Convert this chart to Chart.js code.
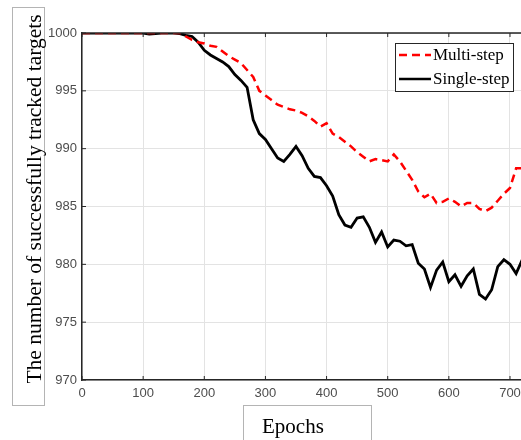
<!DOCTYPE html>
<html>
<head>
<meta charset="utf-8">
<script src="https://cdn.jsdelivr.net/npm/chart.js@4.4.0/dist/chart.umd.min.js"></script>
<style>
  html, body { margin: 0; padding: 0; background: #fff; }
  #wrap { width: 521px; height: 440px; }
</style>
</head>
<body>
<div id="wrap"><canvas id="myChart" width="521" height="440"></canvas></div>
<script>
// epochs sampled every 10
const epochs = [
    0, 10, 20, 30, 40, 50, 60, 70, 80, 90,
    100, 110, 120, 130, 140, 150, 160, 170, 180, 190,
    200, 210, 220, 230, 240, 250, 260, 270, 280, 290,
    300, 310, 320, 330, 340, 350, 360, 370, 380, 390,
    400, 410, 420, 430, 440, 450, 460, 470, 480, 490,
    500, 510, 520, 530, 540, 550, 560, 570, 580, 590,
    600, 610, 620, 630, 640, 650, 660, 670, 680, 690,
    700, 710, 720
];

const multiStep = [
    1000, 1000, 1000, 1000, 1000, 1000, 1000, 1000, 1000, 1000,
    1000, 1000, 1000, 1000, 1000, 1000, 1000, 999.7, 999.4, 999.2,
    999.1, 998.9, 998.8, 998.4, 998.0, 997.7, 997.4, 996.8, 996.2, 995.0,
    994.6, 994.2, 993.8, 993.6, 993.4, 993.3, 993.1, 992.8, 992.4, 991.9,
    992.2, 991.3, 991.0, 990.6, 990.2, 989.7, 989.3, 988.9, 989.1, 989.0,
    988.9, 989.5, 988.9, 988.1, 987.3, 986.3, 985.8, 986.1, 985.3, 985.4,
    985.7, 985.4, 985.0, 985.3, 985.3, 984.8, 984.6, 984.9, 985.5, 986.1,
    986.6, 988.3, 988.3
];

const singleStep = [
    1000, 1000, 1000, 1000, 1000, 1000, 1000, 1000, 1000, 1000,
    1000, 999.9, 999.95, 1000, 1000, 1000, 999.95, 999.8, 999.7, 999.2,
    998.5, 998.1, 997.8, 997.5, 997.1, 996.4, 995.9, 995.3, 992.5, 991.3,
    990.8, 990.0, 989.2, 988.9, 989.5, 990.2, 989.4, 988.3, 987.6, 987.5,
    986.8, 985.9, 984.3, 983.4, 983.2, 984.0, 984.1, 983.2, 981.9, 982.8,
    981.5, 982.1, 982.0, 981.6, 981.7, 980.1, 979.6, 978.0, 979.5, 980.2,
    978.5, 979.1, 978.1, 979.0, 979.6, 977.4, 977.0, 977.8, 979.8, 980.4,
    980.0, 979.2, 980.4
];

const xTicks = [0, 100, 200, 300, 400, 500, 600, 700];
const seriesNames = ["Multi-step", "Single-step"];
const yTitle = "The number of successfully tracked targets";
const xTitle = "Epochs";

function toPoints(values) {
    return epochs.map((e, i) => ({ x: e, y: values[i] }));
}

const axisColor = "#262626";
const serif = "'Liberation Serif', 'Times New Roman', serif";

// box frame, inward ticks, legend and the boxed axis titles
const decorations = {
    id: "decorations",
    afterDraw(chart) {
        const c = chart.ctx;
        const a = chart.chartArea;
        const xs = chart.scales.x;
        const ys = chart.scales.y;
        c.save();

        // top frame line
        c.strokeStyle = axisColor;
        c.lineWidth = 1.5;
        c.beginPath();
        c.moveTo(a.left, a.top);
        c.lineTo(a.right, a.top);
        c.stroke();

        // inward ticks
        c.lineWidth = 1;
        xs.ticks.forEach(t => {
            const px = xs.getPixelForValue(t.value);
            c.beginPath();
            c.moveTo(px, a.bottom); c.lineTo(px, a.bottom - 4);
            c.moveTo(px, a.top); c.lineTo(px, a.top + 4);
            c.stroke();
        });
        ys.ticks.forEach(t => {
            const py = ys.getPixelForValue(t.value);
            c.beginPath();
            c.moveTo(a.left, py); c.lineTo(a.left + 4, py);
            c.stroke();
        });

        // legend
        const lx = 395, ly = 43, lw = 118, lh = 48;
        c.fillStyle = "#fff";
        c.fillRect(lx, ly, lw, lh);
        c.strokeStyle = axisColor;
        c.lineWidth = 1;
        c.strokeRect(lx + 0.5, ly + 0.5, lw, lh);
        chart.data.datasets.forEach((ds, i) => {
            const yy = ly + 12 + i * 24;
            c.strokeStyle = ds.borderColor;
            c.lineWidth = 2.5;
            c.setLineDash(ds.borderDash || []);
            c.beginPath();
            c.moveTo(lx + 4, yy);
            c.lineTo(lx + 36, yy);
            c.stroke();
            c.setLineDash([]);
            c.fillStyle = "#000";
            c.font = "17px " + serif;
            c.textBaseline = "middle";
            c.textAlign = "left";
            c.fillText(ds.label, lx + 38, yy + 1);
        });

        // boxed axis titles
        c.strokeStyle = "#b4b4b4";
        c.lineWidth = 1;
        c.strokeRect(12.5, 7.5, 32, 398);
        c.strokeRect(243.5, 405.5, 128, 40);

        c.fillStyle = "#000";
        c.font = "21.5px " + serif;
        c.save();
        c.translate(41, 199);
        c.rotate(-Math.PI / 2);
        c.textAlign = "center";
        c.textBaseline = "alphabetic";
        c.fillText(yTitle, 0, 0);
        c.restore();

        c.font = "21px " + serif;
        c.textAlign = "left";
        c.textBaseline = "alphabetic";
        c.fillText(xTitle, 262, 433);

        c.restore();
    }
};

const ctx = document.getElementById("myChart");
const chart = new Chart(ctx, {
    type: "line",
    data: {
        datasets: [
            {
                label: seriesNames[0],
                data: toPoints(multiStep),
                borderColor: "#ff0000",
                borderWidth: 2.5,
                borderDash: [8, 5],
                pointRadius: 0,
                fill: false,
                tension: 0
            },
            {
                label: seriesNames[1],
                data: toPoints(singleStep),
                borderColor: "#000000",
                borderWidth: 2.8,
                pointRadius: 0,
                fill: false,
                tension: 0
            }
        ]
    },
    options: {
        responsive: false,
        animation: false,
        layout: { padding: { top: 33, right: 0, left: 0, bottom: 0 } },
        plugins: {
            legend: { display: false },
            tooltip: { enabled: false }
        },
        scales: {
            x: {
                type: "linear",
                min: 0,
                max: 718,
                afterBuildTicks: s => { s.ticks = xTicks.map(v => ({ value: v })); },
                afterFit: s => { s.height = 60; s.paddingRight = 0; s.paddingLeft = 0; },
                ticks: {
                    autoSkip: false,
                    color: "#4d4d4d",
                    font: { family: "'Liberation Sans', Arial, sans-serif", size: 13 },
                    padding: 6,
                    maxRotation: 0,
                    callback: v => String(v)
                },
                grid: { color: "#e3e3e3", lineWidth: 1, drawTicks: false },
                border: { color: axisColor, width: 1.5 }
            },
            y: {
                min: 970,
                max: 1000,
                afterFit: s => { s.width = 82; },
                ticks: {
                    stepSize: 5,
                    color: "#4d4d4d",
                    font: { family: "'Liberation Sans', Arial, sans-serif", size: 13 },
                    padding: 5,
                    callback: v => String(v)
                },
                grid: { color: "#e3e3e3", lineWidth: 1, drawTicks: false },
                border: { color: axisColor, width: 1.5 }
            }
        }
    },
    plugins: [decorations]
});
</script>
</body>
</html>
